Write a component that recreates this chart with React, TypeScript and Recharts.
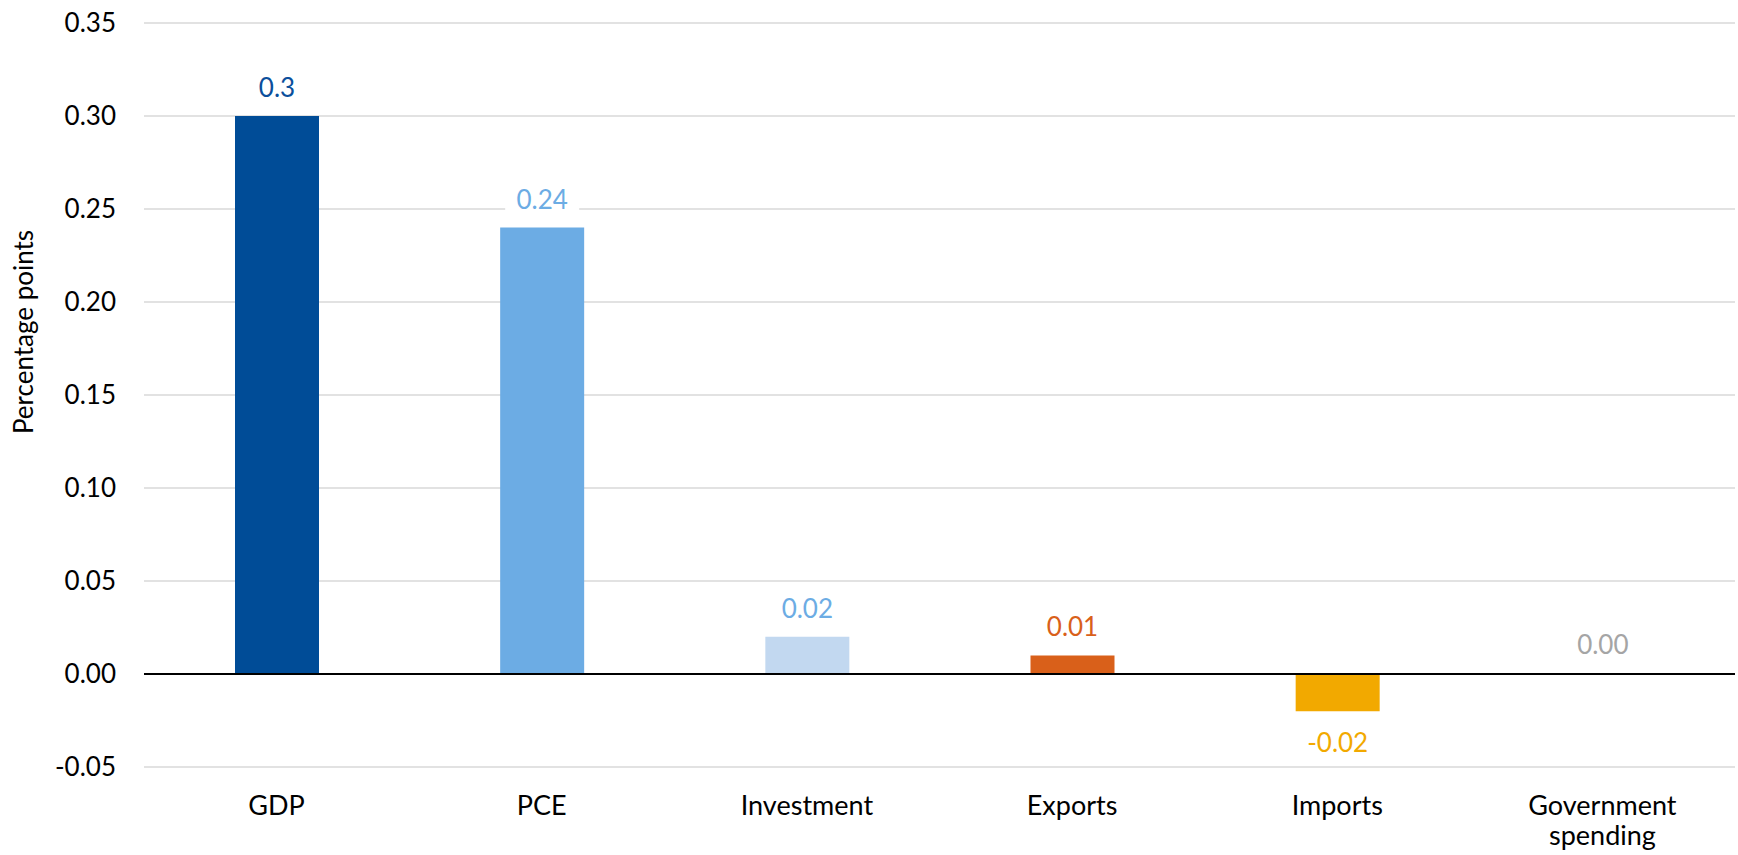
import React from "react";
import {
  BarChart,
  Bar,
  Cell,
  XAxis,
  YAxis,
  CartesianGrid,
  ReferenceLine,
  LabelList,
} from "recharts";

document.body.style.margin = "0";

const FONT = "Lato, 'Open Sans', sans-serif";

const categories = ["GDP", "PCE", "Investment", "Exports", "Imports", "Government spending"];
const contributions = [0.3, 0.24, 0.02, 0.01, -0.02, 0.0];
const valueLabels = ["0.3", "0.24", "0.02", "0.01", "-0.02", "0.00"];
const tickLines = [["GDP"], ["PCE"], ["Investment"], ["Exports"], ["Imports"], ["Government", "spending"]];
const yTicks = [-0.05, 0, 0.05, 0.1, 0.15, 0.2, 0.25, 0.3, 0.35];

const barColors = ["#004c97", "#6cace4", "#c2d8f0", "#d9601a", "#f2a900", "transparent"];
const labelColors = ["#0b4f9c", "#6cace4", "#6cace4", "#d9601a", "#f2a900", "#a5a5a5"];

const data = categories.map((name, i) => ({
  name,
  value: contributions[i],
  label: valueLabels[i],
}));

const XTick = (props: any) => {
  const { x, y, index } = props;
  const lines = tickLines[index] || [];
  return (
    <g>
      {lines.map((line, i) => (
        <text
          key={i}
          x={x}
          y={y + 46 + i * 30}
          textAnchor="middle"
          fontFamily={FONT}
          fontSize={27}
          fill="#000"
        >
          {line}
        </text>
      ))}
    </g>
  );
};

const ValueLabel = (props: any) => {
  const { x, y, width, height, index } = props;
  const top = Math.min(y, y + height);
  const bottom = Math.max(y, y + height);
  const negative = contributions[index] < 0;
  const cx = x + width / 2;
  const cy = negative ? bottom + 32 : top - 28;
  const text = valueLabels[index];
  const w = text.length * 15 + 14;
  return (
    <g>
      <rect x={cx - w / 2} y={cy - 16} width={w} height={32} fill="#fff" />
      <text
        x={cx}
        y={cy + 9}
        textAnchor="middle"
        fontFamily={FONT}
        fontSize={26}
        fill={labelColors[index]}
      >
        {text}
      </text>
    </g>
  );
};

const YLabel = () => (
  <text
    x={23}
    y={332}
    transform="rotate(-90 23 332)"
    textAnchor="middle"
    dominantBaseline="central"
    fontFamily={FONT}
    fontSize={26}
    fill="#000"
  >
    Percentage points
  </text>
);

export default function App() {
  return (
    <div style={{ width: 1738, height: 855, background: "#fff" }}>
      <BarChart
        width={1738}
        height={855}
        data={data}
        margin={{ top: 23, right: 3, bottom: 0, left: 0 }}
        barSize={84}
      >
        <CartesianGrid vertical={false} stroke="#d9d9d9" strokeWidth={1.5} />
        <XAxis
          dataKey="name"
          axisLine={false}
          tickLine={false}
          tickSize={0}
          height={88}
          interval={0}
          tick={<XTick />}
        />
        <YAxis
          domain={[-0.05, 0.35]}
          ticks={yTicks}
          width={144}
          axisLine={false}
          tickLine={false}
          tickSize={0}
          tickMargin={28}
          tickFormatter={(v: number) => v.toFixed(2)}
          tick={{ fontFamily: FONT, fontSize: 26, fill: "#000" }}
          label={<YLabel />}
        />
        <Bar
          dataKey="value"
          isAnimationActive={false}
          minPointSize={(v: number) => (v === 0 ? 1 : 0)}
        >
          {data.map((d, i) => (
            <Cell key={d.name} fill={barColors[i]} />
          ))}
          <LabelList dataKey="label" content={<ValueLabel />} />
        </Bar>
        <ReferenceLine y={0} stroke="#000" strokeWidth={2} />
      </BarChart>
    </div>
  );
}
